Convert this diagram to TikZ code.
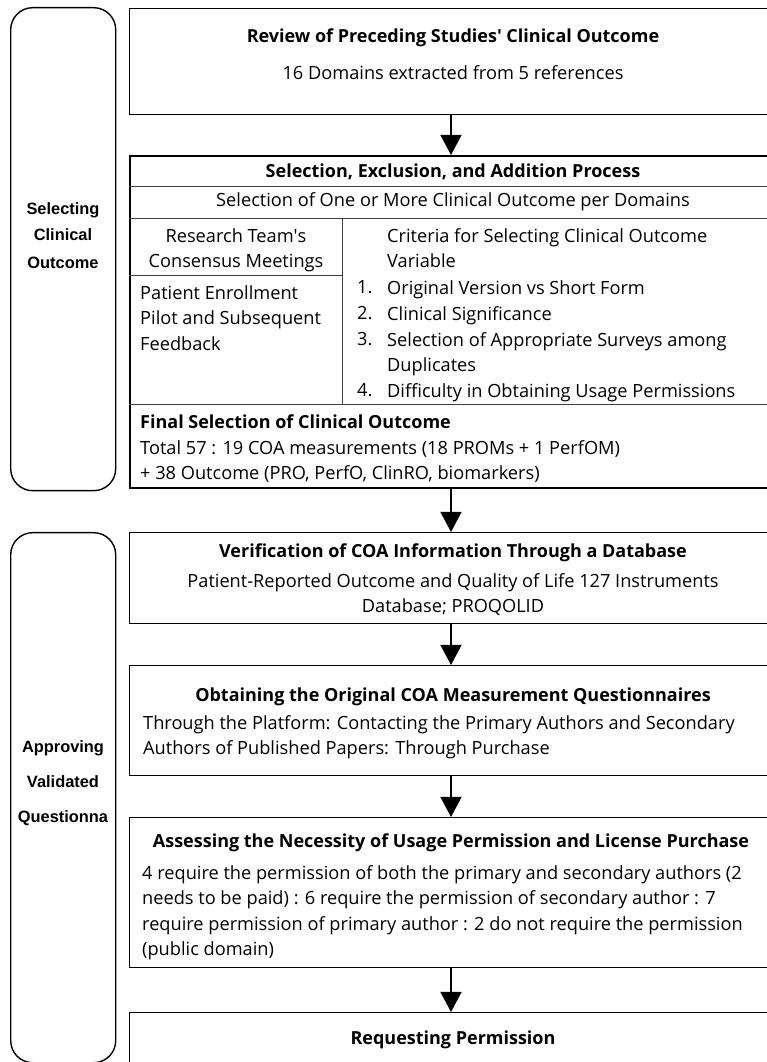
\documentclass[tikz,border=0pt]{standalone}
\usepackage{fontspec}
\setmainfont{Open Sans}
\newfontfamily\labelfont{Liberation Sans}
\usetikzlibrary{arrows.meta,positioning,calc}

\tikzset{
  stepbox/.style={draw, line width=1.3pt, minimum width=647pt, anchor=north west, inner sep=0pt},
  tablebox/.style={stepbox, line width=2.3pt},
  sidebox/.style={draw, line width=1.4pt, rounded corners=22pt, minimum width=105pt, anchor=north west},
  sidetext/.style={font=\labelfont\bfseries\fontsize{16.4}{18}\selectfont, inner sep=0pt},
  titletext/.style={font=\bfseries\fontsize{18}{25.5}\selectfont, inner sep=0pt},
  bodytext/.style={font=\fontsize{18.2}{25.5}\selectfont, inner sep=0pt, align=left},
  flow/.style={line width=1.3pt, -{Triangle[width=21pt,length=20pt]}},
  rule/.style={line width=0.8pt, draw=black!75},
}

\begin{document}
\begin{tikzpicture}[x=1pt,y=1pt]
  \clip (0,0) rectangle (767,1062);

  % phase brackets on the left
  \node[sidebox, minimum height=483pt] (phaseA) at (10,1055) {};
  \node[sidebox, minimum height=530pt] (phaseB) at (10,530) {};
  \node[sidetext] (labA1) at (63,852) {Selecting};
  \node[sidetext] (labA2) at (63,827) {Clinical};
  \node[sidetext] (labA3) at (63,799) {Outcome};
  \node[sidetext] (labB1) at (63,314) {Approving};
  \node[sidetext] (labB2) at (63,280) {Validated};
  \node[sidetext] (labB3) at (63,244) {Questionna};

  % steps
  \node[stepbox, minimum height=106pt] (review) at (129,1054) {};
  \node[tablebox, minimum height=332pt] (select) at (129,907) {};
  \node[stepbox, minimum height=91pt] (verify) at (129,530) {};
  \node[stepbox, minimum height=110pt] (obtain) at (129,397) {};
  \node[stepbox, minimum height=150pt] (assess) at (129,245) {};
  \node[stepbox, minimum height=60pt] (request) at (129,50) {};

  \draw[flow] (review.south -| 451,0) -- (select.north -| 451,0);
  \draw[flow] (select.south -| 451,0) -- (verify.north -| 451,0);
  \draw[flow] (verify.south -| 451,0) -- (obtain.north -| 451,0);
  \draw[flow] (obtain.south -| 451,0) -- (assess.north -| 451,0);
  \draw[flow] (assess.south -| 451,0) -- (request.north -| 451,0);

  % review
  \node[titletext] (reviewT) at (453,1024) {Review of Preceding Studies\textquotesingle\ Clinical Outcome};
  \node[bodytext] (reviewB) at (453,989) {16 Domains extracted from 5 references};

  % selection table
  \draw[rule] (129,876) -- (776,876);
  \draw[rule] (129,844) -- (776,844);
  \draw[rule] (342,844) -- (342,658);
  \draw[rule] (129,787) -- (342,787);
  \draw[rule] (129,658) -- (776,658);
  \node[titletext] (selectT) at (453,890) {Selection, Exclusion, and Addition Process};
  \node[bodytext] (selectR) at (453,860) {Selection of One or More Clinical Outcome per Domains};
  \node[bodytext, align=center, anchor=north] (team) at (236,834) {Research Team\textquotesingle s\\Consensus Meetings};
  \node[bodytext, anchor=north west] (pilot) at (140,777) {Patient Enrollment\\Pilot and Subsequent\\Feedback};
  \node[bodytext, anchor=north west] (criteria) at (387,834) {Criteria for Selecting Clinical Outcome\\Variable};
  \foreach \num/\ypos/\txt in {1/782/Original Version vs Short Form,
                               2/756/Clinical Significance,
                               3/730/{Selection of Appropriate Surveys among\\Duplicates},
                               4/679/Difficulty in Obtaining Usage Permissions}{
    \node[bodytext, anchor=north west] (crit\num) at (387,\ypos) {\txt};
    \node[bodytext, anchor=north west] (num\num) at (357,\ypos) {\num.};
  }
  \node[titletext, anchor=north west] (finalT) at (140,647) {Final Selection of Clinical Outcome};
  \node[bodytext, anchor=north west] (finalB) at (140,622) {Total 57 : 19 COA measurements (18 PROMs + 1 PerfOM)\\+ 38 Outcome (PRO, PerfO, ClinRO, biomarkers)};

  % verification
  \node[titletext] (verifyT) at (453,509) {Verification of COA Information Through a Database};
  \node[bodytext, align=center, anchor=north] (verifyB) at (453,489) {Patient-Reported Outcome and Quality of Life 127 Instruments\\Database; PROQOLID};

  % original questionnaires
  \node[titletext] (obtainT) at (453,365) {Obtaining the Original COA Measurement Questionnaires};
  \node[bodytext, anchor=north west] (obtainB) at (143,347) {Through the Platform: Contacting the Primary Authors and Secondary\\Authors of Published Papers: Through Purchase};

  % permission
  \node[titletext] (assessT) at (451,219) {Assessing the Necessity of Usage Permission and License Purchase};
  \node[bodytext, anchor=north west] (assessB) at (142,197) {4 require the permission of both the primary and secondary authors (2\\needs to be paid) : 6 require the permission of secondary author : 7\\require permission of primary author : 2 do not require the permission\\(public domain)};

  \node[titletext] (requestT) at (453,22) {Requesting Permission};
\end{tikzpicture}
\end{document}
